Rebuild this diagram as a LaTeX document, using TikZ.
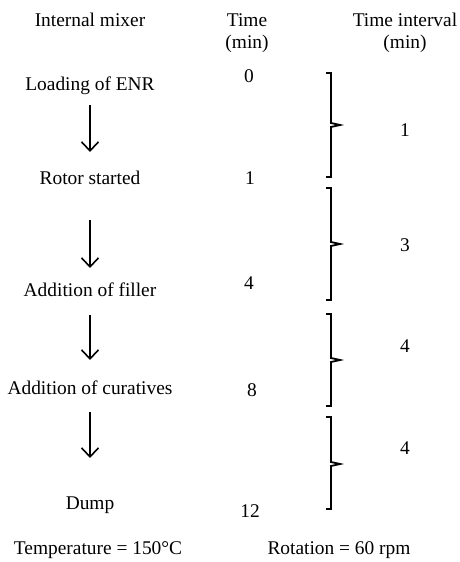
\documentclass[tikz,border=0pt]{standalone}
\usepackage{fontspec}
\setmainfont{Liberation Serif}
\usetikzlibrary{arrows.meta}
\begin{document}
\begin{tikzpicture}[x = 1pt, y = -1pt, >={Straight Barb[length=9pt, width=17pt, line width=1.6pt]}, line width = 1.6pt]
    \tikzstyle{txt} = [inner sep = 0pt, font = \fontsize{19.4}{22}\selectfont, align = center]
    \tikzstyle{arr} = [->, line width = 1.8pt]
    \tikzstyle{brace} = [line width = 1.8pt, line join = miter]
    \useasboundingbox (0,0) rectangle (459,562);

    % column heads
    \node[txt] (mixer) at (90,20) {Internal mixer};
    \node[txt] (time) at (247,33) {Time\\(min)};
    \node[txt] (interval) at (405,33) {Time interval\\(min)};

    % steps
    \node[txt] (load) at (90,86) {Loading of ENR};
    \node[txt] (rotor) at (90,178) {Rotor started};
    \node[txt] (filler) at (90,290) {Addition of filler};
    \node[txt] (cure) at (90,388) {Addition of curatives};
    \node[txt] (dump) at (90,505) {Dump};

    \draw[arr, shorten <= 19pt, shorten > = 26pt] (load.center) -- (rotor.center);
    \draw[arr, shorten <= 42pt, shorten > = 22pt] (rotor.center) -- (filler.center);
    \draw[arr, shorten <= 25pt, shorten > = 28pt] (filler.center) -- (cure.center);
    \draw[arr, shorten <= 24pt, shorten > = 47pt] (cure.center) -- (dump.center);

    % times
    \node[txt] (t0) at (249,76) {0};
    \node[txt] (t1) at (250,178) {1};
    \node[txt] (t4) at (249,283) {4};
    \node[txt] (t8) at (252,390) {8};
    \node[txt] (t12) at (250,511) {12};

    % intervals
    \draw[brace] (326,73) -- (331,73) -- (331,123) -- (340,125) -- (331,127) -- (331,177) -- (326,177);
    \draw[brace] (326,188) -- (331,188) -- (331,242) -- (340,244) -- (331,246) -- (331,300) -- (326,300);
    \draw[brace] (326,314) -- (331,314) -- (331,358) -- (340,360) -- (331,362) -- (331,406) -- (326,406);
    \draw[brace] (326,417) -- (331,417) -- (331,462) -- (340,464) -- (331,466) -- (331,509) -- (326,509);
    \node[txt] (d1) at (405,130) {1};
    \node[txt] (d2) at (405,245) {3};
    \node[txt] (d3) at (405,346) {4};
    \node[txt] (d4) at (405,448) {4};

    % conditions
    \node[txt] (temp) at (98,550) {Temperature = 150°C};
    \node[txt] (rpm) at (339,550) {Rotation = 60 rpm};
\end{tikzpicture}
\end{document}
